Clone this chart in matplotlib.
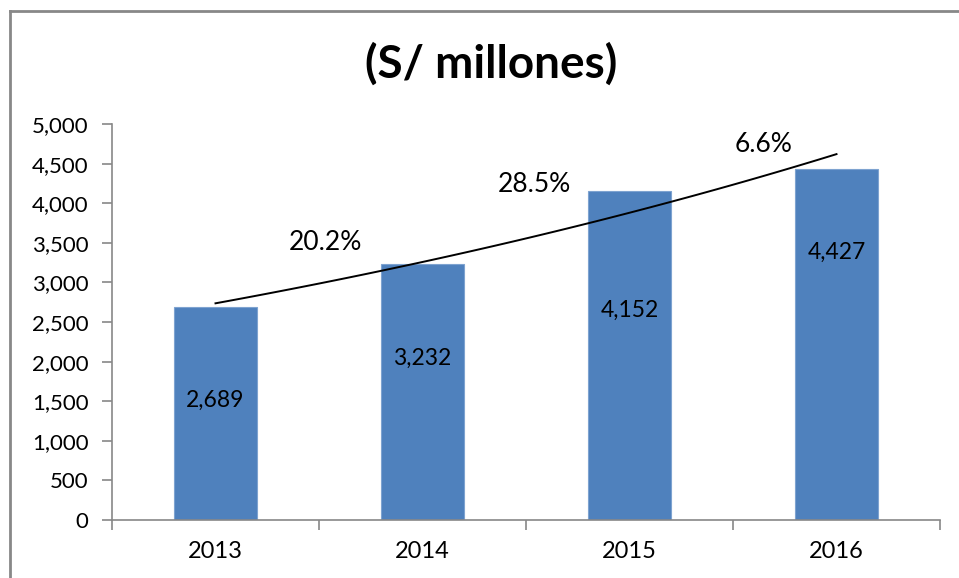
import matplotlib.pyplot as plt
import matplotlib.ticker as ticker
import numpy as np

plt.rcParams['font.family'] = ['Lato', 'DejaVu Sans']

years = ['2013', '2014', '2015', '2016']
values = [2689, 3232, 4152, 4427]
growth = ['20.2%', '28.5%', '6.6%']

# where the value and growth labels sit
value_label_y = [1515, 2045, 2650, 3380]
growth_label_x = [0.53, 1.54, 2.65]
growth_label_y = [3510, 4230, 4735]

fig = plt.figure(figsize=(9.59, 5.78), dpi=100)
ax = fig.add_axes([112/959, 58/578, 828/959, 396/578])

x = np.arange(len(years))
ax.bar(x, values, width=0.4, color='#4F81BD', edgecolor='#7EA3D0', linewidth=0.8, zorder=2)

# exponential trend line, drawn as a smooth curve
b, a = np.polyfit(x, np.log(values), 1)
xs = np.linspace(0, 3, 100)
ax.plot(xs, np.exp(a + b*xs), color='black', lw=1.4, zorder=3)

for i, v in enumerate(values):
    ax.text(i, value_label_y[i], f'{v:,}', ha='center', va='center', fontsize=16.5, color='black', zorder=4)
for gx, gy, g in zip(growth_label_x, growth_label_y, growth):
    ax.text(gx, gy, g, ha='center', va='center', fontsize=19, color='black')

ax.set_xlim(-0.5, 3.5)
ax.set_ylim(0, 5000)
ax.yaxis.set_major_locator(ticker.MultipleLocator(500))
ax.yaxis.set_major_formatter(ticker.FuncFormatter(lambda v, p: f'{int(v):,}'))
ax.set_xticks(x)
ax.set_xticklabels(years)
ax.set_xticks(np.arange(-0.5, 4, 1), minor=True)
ax.tick_params(axis='x', which='major', length=0, labelsize=17, pad=15)
ax.tick_params(axis='x', which='minor', length=7, color='#888888', width=1.2, direction='out')
ax.tick_params(axis='y', length=7, color='#888888', width=1.2, labelsize=16, pad=10)

for s in ['top', 'right']:
    ax.spines[s].set_visible(False)
for s in ['left', 'bottom']:
    ax.spines[s].set_color('#888888')
    ax.spines[s].set_linewidth(1.2)

fig.text(491/959, 1 - 64/578, '(S/ millones)', ha='center', va='center', fontsize=33, fontweight='bold')

# outer chart frame
fig.add_artist(plt.Line2D([10/959, 10/959], [0, 1 - 11/578], transform=fig.transFigure, color='#888888', lw=2))
fig.add_artist(plt.Line2D([10/959, 1], [1 - 11/578, 1 - 11/578], transform=fig.transFigure, color='#888888', lw=2))

fig.savefig('out.png', dpi=100)
